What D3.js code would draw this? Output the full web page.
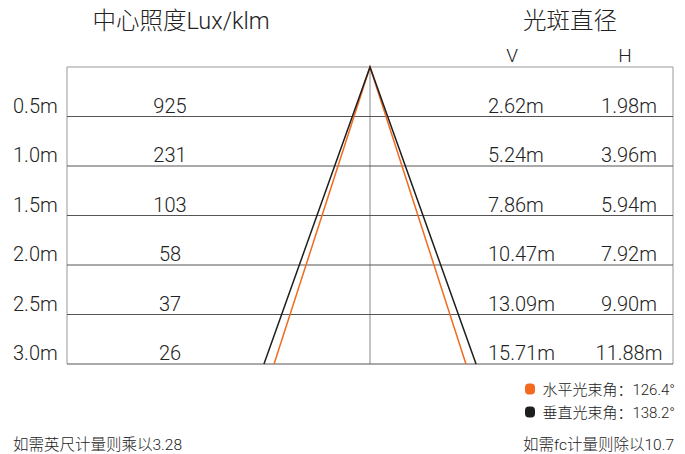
<!DOCTYPE html>
<html><head><meta charset="utf-8">
<script src="https://cdn.jsdelivr.net/npm/d3@7/dist/d3.min.js"></script>
<style>
html,body{margin:0;padding:0;background:#fff;overflow:hidden}
text{font-family:Roboto,"Noto Sans CJK SC",sans-serif;font-weight:300;fill:#222}
</style></head>
<body>
<svg id="c" width="685" height="454"></svg>
<script>
const distances = [0.5, 1.0, 1.5, 2.0, 2.5, 3.0];
const distanceLabels = ["0.5m", "1.0m", "1.5m", "2.0m", "2.5m", "3.0m"];
const centerLux = [925, 231, 103, 58, 37, 26];
const spotV = ["2.62m", "5.24m", "7.86m", "10.47m", "13.09m", "15.71m"];
const spotH = ["1.98m", "3.96m", "5.94m", "7.92m", "9.90m", "11.88m"];
const beamNames = ["水平光束角", "垂直光束角"];
const beamAngles = [126.4, 138.2];
const beamColors = ["#f26a1f", "#1e1e1e"];
// schematic half-width of each beam at 3.0m (drawing units)
const beamHalfAt3m = [0.95, 1.05];

const svg = d3.select("#c");
const y = d3.scaleLinear().domain([0, 3.0]).range([67, 364]);
const x = d3.scaleLinear().domain([-3, 3]).range([67, 673]);

// titles
svg.append("text").attr("x", 181).attr("y", 29).attr("text-anchor", "middle")
  .style("font-size", "23.5px").text("中心照度Lux/klm");
svg.append("text").attr("x", 570).attr("y", 29).attr("text-anchor", "middle")
  .style("font-size", "23.5px").text("光斑直径");
svg.append("text").attr("x", 512).attr("y", 62).attr("text-anchor", "middle")
  .style("font-size", "19px").text("V");
svg.append("text").attr("x", 625).attr("y", 62).attr("text-anchor", "middle")
  .style("font-size", "19px").text("H");

// frame
svg.append("line").attr("x1", x(-3)).attr("x2", x(3)).attr("y1", y(0)).attr("y2", y(0))
  .attr("stroke", "#999").attr("stroke-width", 1);
svg.append("line").attr("x1", x(-3)).attr("x2", x(-3)).attr("y1", y(0)).attr("y2", y(3))
  .attr("stroke", "#999");
svg.append("line").attr("x1", x(3)).attr("x2", x(3)).attr("y1", y(0)).attr("y2", y(3))
  .attr("stroke", "#999");
svg.append("line").attr("x1", x(0)).attr("x2", x(0)).attr("y1", y(0)).attr("y2", y(3))
  .attr("stroke", "#888");

// row lines
svg.selectAll("line.row").data(distances).join("line").attr("class", "row")
  .attr("x1", x(-3)).attr("x2", x(3))
  .attr("y1", d => y(d)).attr("y2", d => y(d))
  .attr("stroke", "#555").attr("stroke-width", 1);

// beams
const beams = beamHalfAt3m.map((h, i) => ({h, color: beamColors[i]}));
beams.forEach(b => {
  svg.append("path")
    .attr("d", d3.line()([[x(-b.h), y(3)], [x(0), y(0)], [x(b.h), y(3)]]))
    .attr("fill", "none").attr("stroke", b.color).attr("stroke-width", 1.5);
});

// row texts
const rows = distances.map((d, i) => ({d, label: distanceLabels[i], lux: centerLux[i], v: spotV[i], h: spotH[i]}));
const fs = "20px";
svg.selectAll("text.dl").data(rows).join("text").attr("class", "dl")
  .attr("x", 13).attr("y", d => y(d.d) - 4).style("font-size", fs).text(d => d.label);
svg.selectAll("text.lux").data(rows).join("text").attr("class", "lux")
  .attr("x", 170).attr("y", d => y(d.d) - 4).attr("text-anchor", "middle").style("font-size", fs).text(d => d.lux);
svg.selectAll("text.v").data(rows).join("text").attr("class", "v")
  .attr("x", 488).attr("y", d => y(d.d) - 4).style("font-size", fs).text(d => d.v);
svg.selectAll("text.h").data(rows).join("text").attr("class", "h")
  .attr("x", 629).attr("y", d => y(d.d) - 4).attr("text-anchor", "middle").style("font-size", fs).text(d => d.h);

// legend
const leg = beamNames.map((n, i) => ({n, a: beamAngles[i], c: beamColors[i]}));
const lg = svg.selectAll("g.leg").data(leg).join("g").attr("class", "leg")
  .attr("transform", (d, i) => `translate(0,${389 + i * 23})`);
lg.append("rect").attr("x", 525).attr("y", -5.5).attr("width", 10).attr("height", 11).attr("rx", 4)
  .attr("fill", d => d.c);
lg.append("text").attr("x", 675).attr("y", 5.5).attr("text-anchor", "end")
  .style("font-size", "15px").text(d => `${d.n}：${d.a}°`);

// footer
svg.append("text").attr("x", 13).attr("y", 450).style("font-size", "15.5px").text("如需英尺计量则乘以3.28");
svg.append("text").attr("x", 674).attr("y", 450).attr("text-anchor", "end").style("font-size", "15.5px").text("如需fc计量则除以10.7");
</script>
</body></html>
